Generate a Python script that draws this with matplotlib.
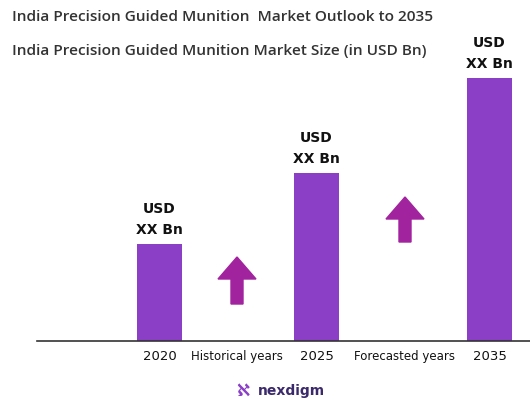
import matplotlib
matplotlib.use("Agg")
import matplotlib.pyplot as plt
from matplotlib.patches import FancyArrow

years = ["2020", "2025", "2035"]
values = [97, 168, 263]
bar_labels = ["USD\nXX Bn", "USD\nXX Bn", "USD\nXX Bn"]
between_labels = ["Historical years", "Forecasted years"]

W, H = 530, 406
fig = plt.figure(figsize=(W/100, H/100), dpi=100)
ax = fig.add_axes([37/W, (H-342)/H, 1-37/W, 342/H])
ax.set_xlim(37, 530)
ax.set_ylim(0, 342)
ax.axis("off")

pos = [159.5, 316.5, 489.5]
bar_color = "#8A3FC6"
ax.bar(pos, values, width=45, color=bar_color, zorder=2)
ax.axhline(0, color="#333333", lw=1.2, clip_on=False)
for p, v, lab in zip(pos, values, bar_labels):
    ax.text(p, v + 8, lab, ha="center", va="bottom", fontsize=10, fontweight="bold",
            color="#111111", linespacing=1.6)

arrow_color = "#A1239E"
for x, y0, y1 in [(237, 37, 84), (405, 99, 144)]:
    ax.add_patch(FancyArrow(x, y0, 0, y1 - y0, width=12, head_width=38,
                            head_length=22, length_includes_head=True,
                            color=arrow_color, zorder=3))

for p, y in zip(pos, years):
    fig.text(p/W, 1-357/H, y, ha="center", va="center", fontsize=9.5, color="#111111")
fig.text(237/W, 1-357/H, between_labels[0], ha="center", va="center", fontsize=8.5, color="#111111")
fig.text(405/W, 1-357/H, between_labels[1], ha="center", va="center", fontsize=8.5, color="#111111")

fig.text(12/W, 1-17/H, "India Precision Guided Munition  Market Outlook to 2035",
         ha="left", va="center", fontsize=11.1, color="#333333", fontweight="semibold",
         family="Open Sans")
fig.text(12/W, 1-51/H, "India Precision Guided Munition Market Size (in USD Bn)",
         ha="left", va="center", fontsize=11.1, color="#333333", fontweight="semibold",
         family="Open Sans")

fig.text(243/W, 1-391/H, "\u2135", ha="center", va="center", fontsize=12, color="#8A3FC6", fontweight="bold")
fig.text(258/W, 1-391/H, "nexdigm", ha="left", va="center", fontsize=10, color="#3b2a6b", fontweight="bold")

fig.savefig("out.png", dpi=100)
